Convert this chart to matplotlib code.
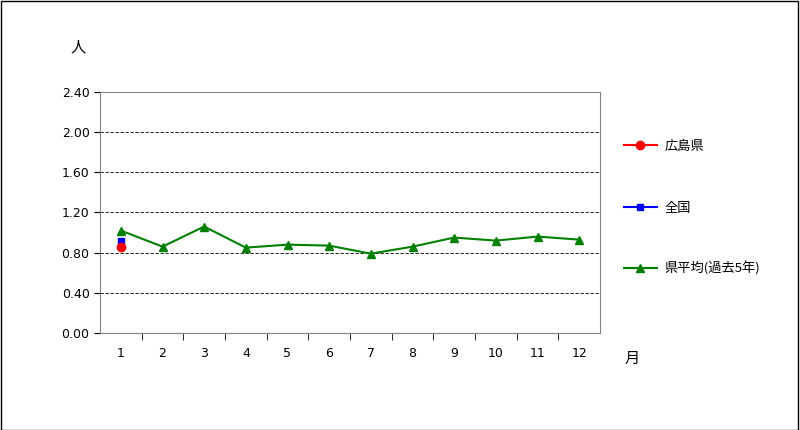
import matplotlib
matplotlib.use('Agg')
import matplotlib.pyplot as plt
from matplotlib.lines import Line2D
from matplotlib.patches import Rectangle

plt.rcParams['font.family'] = ['Noto Sans CJK JP', 'DejaVu Sans']

months = [1, 2, 3, 4, 5, 6, 7, 8, 9, 10, 11, 12]
ken_avg = [1.02, 0.86, 1.06, 0.85, 0.88, 0.87, 0.79, 0.86, 0.95, 0.92, 0.96, 0.93]
hiroshima = [0.86]
zenkoku = [0.92]
yticks = [0.0, 0.4, 0.8, 1.2, 1.6, 2.0, 2.4]

fig = plt.figure(figsize=(8, 4.3), dpi=100)
fig.patches.append(Rectangle((0.001, 0.001), 0.997, 0.996, transform=fig.transFigure,
                             fill=False, edgecolor='black', linewidth=1))
ax = fig.add_axes([0.125, 0.2256, 0.625, 0.5605])

ax.plot(months, ken_avg, color='#008000', marker='^', markersize=6, linewidth=1.5, zorder=3)
ax.plot(months[:1], zenkoku, color='blue', marker='s', markersize=5, linestyle='none', zorder=4)
ax.plot(months[:1], hiroshima, color='red', marker='o', markersize=6, linestyle='none', zorder=5)

ax.set_xlim(0.5, 12.5)
ax.set_ylim(0, 2.4)
ax.set_yticks(yticks)
ax.set_yticklabels(['%.2f' % v for v in yticks], fontsize=9, family='DejaVu Sans')
ax.set_xticks(months)
ax.set_xticklabels([str(m) for m in months], fontsize=9, family='DejaVu Sans')
ax.set_xticks([m + 0.5 for m in months[:-1]], minor=True)
ax.tick_params(axis='x', which='major', length=0, pad=10)
ax.tick_params(axis='x', which='minor', length=5, direction='out')
ax.tick_params(axis='y', length=4, direction='out')
for y in yticks[1:]:
    ax.axhline(y, color='black', linestyle=(0, (4, 2)), linewidth=0.6, zorder=1)
for s in ax.spines.values():
    s.set_color('#808080')

fig.text(0.098, 0.88, '人', fontsize=11, ha='center')
fig.text(0.79, 0.155, '月', fontsize=11, ha='center')

handles = [
    Line2D([], [], color='red', marker='o', markersize=6),
    Line2D([], [], color='blue', marker='s', markersize=5),
    Line2D([], [], color='#008000', marker='^', markersize=6),
]
labels = ['広島県', '全国', '県平均(過去5年)']
ys = [0.66, 0.515, 0.375]
for h, l, y in zip(handles, labels, ys):
    fig.legend([h], [l], loc='center left', bbox_to_anchor=(0.765, y), frameon=False,
               fontsize=9.5, handlelength=2.5, handletextpad=0.6)

fig.savefig('out.png', dpi=100)
